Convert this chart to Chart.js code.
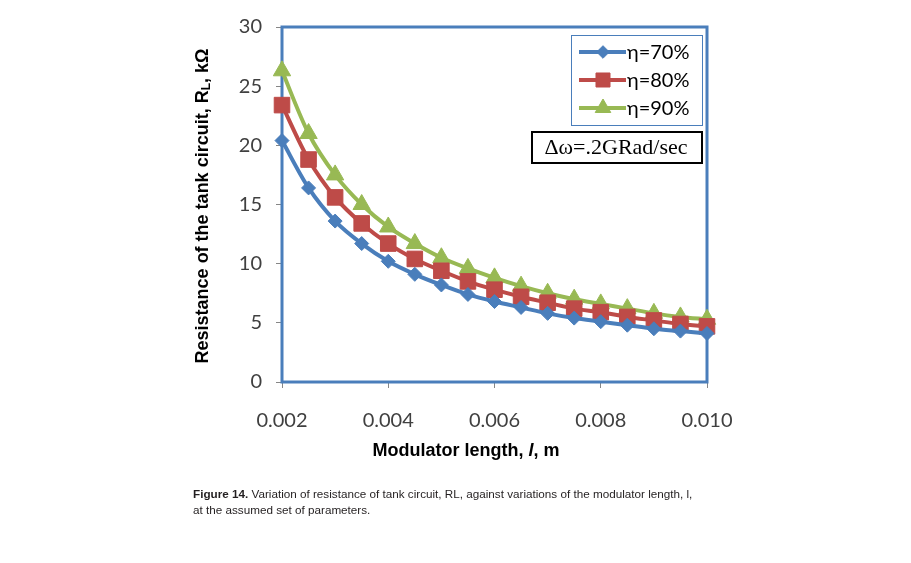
<!DOCTYPE html>
<html>
<head>
<meta charset="utf-8">
<script src="https://cdn.jsdelivr.net/npm/chart.js@4.4.0/dist/chart.umd.min.js"></script>
<style>
html, body { margin: 0; padding: 0; background: #fff; }
#wrap { position: relative; width: 911px; height: 563px; }
#chart { position: absolute; left: 0; top: 0; }
#caption {
    position: absolute; left: 193px; top: 486px; width: 510px;
    font: 11.7px "Liberation Sans", Arial, sans-serif; line-height: 16px; color: #231f20;
}
</style>
</head>
<body>
<div id="wrap">
    <canvas id="chart" width="911" height="563"></canvas>
    <div id="caption"><b>Figure 14.</b> Variation of resistance of tank circuit, RL, against variations of the modulator length, l, at the assumed set of parameters.</div>
</div>
<script>
// modulator length, m
const lengths = [0.002, 0.0025, 0.003, 0.0035, 0.004, 0.0045, 0.005, 0.0055, 0.006,
                 0.0065, 0.007, 0.0075, 0.008, 0.0085, 0.009, 0.0095, 0.010];
// resistance RL, kOhm
const eta70 = [20.4, 16.4, 13.6, 11.7, 10.2, 9.1, 8.2, 7.4, 6.8, 6.3, 5.8, 5.4, 5.1, 4.8, 4.5, 4.3, 4.1];
const eta80 = [23.4, 18.8, 15.6, 13.4, 11.7, 10.4, 9.4, 8.5, 7.8, 7.2, 6.7, 6.2, 5.9, 5.5, 5.2, 4.9, 4.7];
const eta90 = [26.3, 21.0, 17.5, 15.0, 13.1, 11.7, 10.5, 9.6, 8.8, 8.1, 7.5, 7.0, 6.6, 6.2, 5.8, 5.5, 5.3];
const seriesLabels = ['η=70%', 'η=80%', 'η=90%'];
const noteText = 'Δω=.2GRad/sec';

const TICK_FONT = 'Lato, "Open Sans", sans-serif';
const TITLE_FONT = '"Liberation Sans", Arial, sans-serif';

function pairs(ys) {
    return ys.map((y, i) => ({ x: lengths[i], y: y }));
}

const datasets = [
    { label: seriesLabels[0], data: pairs(eta70), borderColor: '#4a7ebb', backgroundColor: '#4a7ebb',
      pointStyle: 'rectRot', pointRadius: 7 },
    { label: seriesLabels[1], data: pairs(eta80), borderColor: '#be4b48', backgroundColor: '#be4b48',
      pointStyle: 'rect', pointRadius: 11 },
    { label: seriesLabels[2], data: pairs(eta90), borderColor: '#98b954', backgroundColor: '#98b954',
      pointStyle: 'triangle', pointRadius: 10 }
].map(d => Object.assign(d, { borderWidth: 4, pointBorderWidth: 1, tension: 0.3, clip: false }));

// draw text made of several runs (different fonts / subscript)
function drawRuns(ctx, runs, cx, cy, angle) {
    ctx.save();
    ctx.translate(cx, cy);
    ctx.rotate(angle);
    ctx.textBaseline = 'middle';
    ctx.textAlign = 'left';
    let total = 0;
    runs.forEach(r => { ctx.font = r.f; r.w = ctx.measureText(r.t).width; total += r.w; });
    let x = -total / 2;
    runs.forEach(r => {
        ctx.font = r.f;
        ctx.fillStyle = '#000';
        ctx.fillText(r.t, x, r.dy || 0);
        x += r.w;
    });
    ctx.restore();
}

const framePlugin = {
    id: 'frame',
    beforeDatasetsDraw(chart) {
        const { ctx, chartArea: a } = chart;
        ctx.save();
        ctx.strokeStyle = '#4a7ebb';
        ctx.lineWidth = 3;
        ctx.strokeRect(a.left, a.top, a.right - a.left, a.bottom - a.top);
        ctx.restore();
    },
    afterDraw(chart) {
        const ctx = chart.ctx;

        // LEGEND
        ctx.save();
        ctx.fillStyle = '#fff';
        ctx.fillRect(571, 35, 131, 90);
        ctx.strokeStyle = '#4a7ebb';
        ctx.lineWidth = 1;
        ctx.strokeRect(571.5, 35.5, 131, 90);
        chart.data.datasets.forEach((ds, i) => {
            const y = 52 + i * 28;
            ctx.strokeStyle = ds.borderColor;
            ctx.lineWidth = 4;
            ctx.beginPath();
            ctx.moveTo(579, y);
            ctx.lineTo(626, y);
            ctx.stroke();
            ctx.fillStyle = ds.backgroundColor;
            ctx.lineWidth = 1;
            Chart.helpers.drawPoint(ctx, { pointStyle: ds.pointStyle, radius: ds.pointRadius * 0.9, borderWidth: 1 }, 603, y);
            ctx.fillStyle = '#000';
            ctx.font = '20px ' + TICK_FONT;
            ctx.textBaseline = 'middle';
            ctx.fillText(ds.label, 627, y + 1);
        });

        // NOTE BOX
        ctx.fillStyle = '#fff';
        ctx.fillRect(532, 132, 170, 31);
        ctx.strokeStyle = '#000';
        ctx.lineWidth = 2;
        ctx.strokeRect(532, 132, 170, 31);
        ctx.fillStyle = '#000';
        ctx.font = '22px "Liberation Serif", "Times New Roman", serif';
        ctx.textAlign = 'center';
        ctx.textBaseline = 'middle';
        ctx.fillText(noteText, 616, 148);
        ctx.restore();

        // AXIS TITLES
        const b18 = 'bold 18px ' + TITLE_FONT;
        drawRuns(ctx, [
            { t: 'Resistance of the tank circuit, R', f: b18 },
            { t: 'L', f: 'bold 12px ' + TITLE_FONT, dy: 4 },
            { t: ', kΩ', f: b18 }
        ], 203, 206, -Math.PI / 2);
        drawRuns(ctx, [
            { t: 'Modulator length, ', f: b18 },
            { t: 'l', f: 'bold italic 18px ' + TITLE_FONT },
            { t: ', m', f: b18 }
        ], 466, 451, 0);
    }
};

new Chart(document.getElementById('chart'), {
    type: 'line',
    data: { datasets: datasets },
    options: {
        responsive: false,
        animation: false,
        layout: { padding: { left: 0, top: 27, right: 204, bottom: 0 } },
        plugins: { legend: { display: false }, tooltip: { enabled: false } },
        scales: {
            x: {
                type: 'linear',
                min: 0.002, max: 0.010,
                grid: { drawOnChartArea: false, tickLength: 6, color: '#868686' },
                border: { display: false },
                ticks: {
                    stepSize: 0.002, padding: 21, color: '#404040',
                    font: { family: TICK_FONT, size: 20 },
                    callback: v => v.toFixed(3)
                },
                afterFit(scale) { scale.height = 181; }
            },
            y: {
                min: 0, max: 30,
                grid: { drawOnChartArea: false, tickLength: 6, color: '#868686' },
                border: { display: false },
                ticks: { stepSize: 5, padding: 14, color: '#404040', font: { family: TICK_FONT, size: 20 } },
                afterFit(scale) { scale.width = 282; }
            }
        }
    },
    plugins: [framePlugin]
});
</script>
</body>
</html>
